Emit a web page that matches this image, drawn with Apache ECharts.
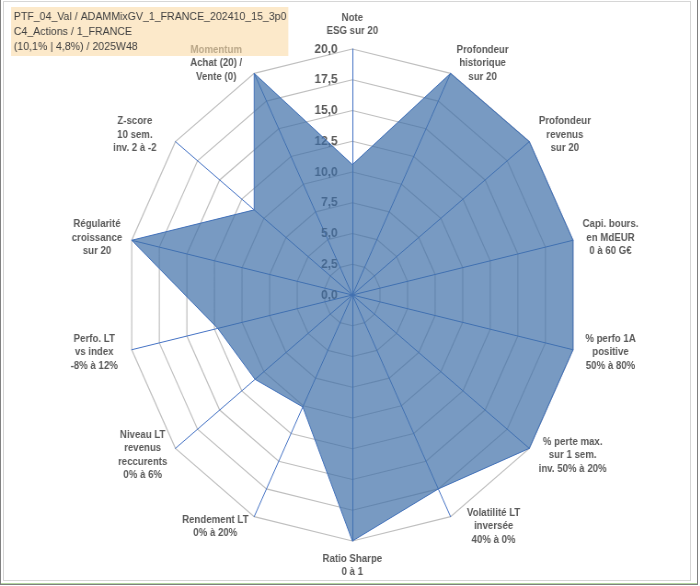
<!DOCTYPE html>
<html>
<head>
<meta charset="utf-8">
<script src="https://cdn.jsdelivr.net/npm/echarts@6/dist/echarts.min.js"></script>
<style>
  html, body { margin: 0; padding: 0; background: #fff; }
  #outer { position: absolute; left: 0; top: 0; width: 696px; height: 584px;
           border-left: 1px solid #808080; border-right: 1px solid #808080; border-bottom: 1px solid #808080; }
  #inner { position: absolute; left: 3px; top: 1px; width: 686px; height: 578px; border: 1px solid #d6d6d6; }
  #green { position: absolute; left: 1px; top: 583px; width: 696px; height: 1px; background: #b4d7a0; }
  /* the reference is a slightly squeezed Excel export, so the chart is drawn wider then narrowed */
  #chart { position: absolute; left: 0; top: 0; width: 761px; height: 586px;
           transform: scaleX(0.92); transform-origin: 0 0; }
</style>
</head>
<body>
<div id="outer"></div>
<div id="inner"></div>
<div id="green"></div>
<div id="chart"></div>
<script>
// axes in Excel order, clockwise from the top
const axisNames = [
  'Note\nESG sur 20',
  'Profondeur\nhistorique\nsur 20',
  'Profondeur\nrevenus\nsur 20',
  'Capi. bours.\nen MdEUR\n0 à 60 G€',
  '% perfo 1A\npositive\n50% à 80%',
  '% perte max.\nsur 1 sem.\ninv. 50% à 20%',
  'Volatilité LT\ninversée\n40% à 0%',
  'Ratio Sharpe\n0 à 1',
  'Rendement LT\n0% à 20%',
  'Niveau LT\nrevenus\nreccurents\n0% à 6%',
  'Perfo. LT\nvs index\n-8% à 12%',
  'Régularité\ncroissance\nsur 20',
  'Z-score\n10 sem.\ninv. 2 à -2',
  'Momentum\nAchat (20) /\nVente (0)'
];
const scores = [10.6, 20, 20, 20, 20, 20, 17.5, 20, 10.1, 11.0, 12.2, 20, 11.1, 20];
const axisMax = 20;
const titleLines = [
  'PTF_04_Val / ADAMMixGV_1_FRANCE_202410_15_3p0',
  'C4_Actions / 1_FRANCE',
  '(10,1% | 4,8%) / 2025W48'
];

// width of the centred block each axis name sits in (Excel pushes some names further out)
const nameBoxWidth = [60, 60, 60, 60, 60, 77, 84, 60, 75, 54, 60, 54, 71, 73];

// echarts lays radar axes out counter-clockwise, so flip the tail
const order = [0].concat(axisNames.map((_, i) => i).slice(1).reverse());

const nameStyle = {
  align: 'center',
  fontFamily: 'Liberation Sans, Arial, sans-serif',
  fontSize: 10.5, fontWeight: 'bold', color: '#595959', lineHeight: 13.5
};
const rich = {};
nameBoxWidth.forEach(w => { rich['w' + w] = Object.assign({ width: w }, nameStyle); });

const chart = echarts.init(document.getElementById('chart'), null, { renderer: 'canvas' });

const option = {
  animation: false,
  backgroundColor: 'transparent',
  title: {
    text: titleLines.join('\n'),
    left: 12, top: 7,
    padding: [2, 2, 2, 3],
    backgroundColor: 'rgba(250,218,166,0.6)',
    textStyle: {
      fontFamily: 'Liberation Sans, Arial, sans-serif',
      fontSize: 11.5, fontWeight: 'normal', color: '#404040', lineHeight: 15
    }
  },
  radar: {
    center: [383, 295],
    radius: 246,
    startAngle: 90,
    shape: 'polygon',
    splitNumber: 8,
    indicator: order.map((k, j) => ({
      name: axisNames[k],
      min: 0,
      max: axisMax,
      axisLabel: { show: j === 0 }
    })),
    nameGap: 11,
    axisName: {
      formatter: name => {
        const key = 'w' + nameBoxWidth[axisNames.indexOf(name)];
        return name.split('\n').map(s => '{' + key + '|' + s + '}').join('\n');
      },
      rich: rich
    },
    axisLine: { show: true, lineStyle: { color: '#4472C4', width: 1 } },
    splitLine: { lineStyle: { color: '#bfbfbf', width: 1.2 } },
    splitArea: { show: false },
    axisTick: { show: false },
    axisLabel: {
      show: false,
      margin: 16,
      fontFamily: 'Liberation Sans, Arial, sans-serif',
      fontSize: 13, fontWeight: 'bold', color: '#595959',
      formatter: v => v.toFixed(1).replace('.', ',')
    }
  },
  series: [{
    type: 'radar',
    symbol: 'none',
    lineStyle: { color: '#4472C4', width: 1 },
    areaStyle: { color: '#3E6FA8', opacity: 0.7 },
    data: [{ value: order.map(k => scores[k]), name: 'Score' }]
  }]
};
chart.setOption(option);
</script>
</body>
</html>
